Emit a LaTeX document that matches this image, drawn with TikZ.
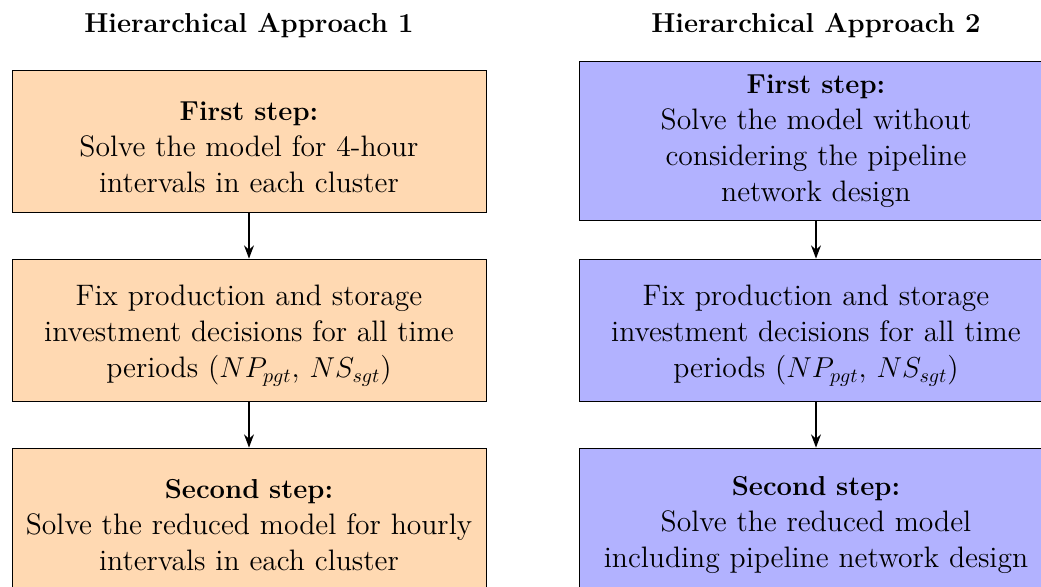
\documentclass[tikz,border=0pt]{standalone}
\usepackage{amsmath,amssymb}
\usepackage{xcolor}
\usepackage{tikz}
\usetikzlibrary{shapes,arrows,positioning,calc,arrows.meta}

\newcommand{\stephead}[1]{{\fontsize{13.7}{18}\selectfont\bfseries #1}}
\newcommand{\lowstrut}{\rule{0pt}{16pt}}

\begin{document}
\begin{tikzpicture}[
    stepbox/.style={draw, rectangle, text width=8cm, align=center, minimum height=71pt,
        inner xsep=4.7pt, inner ysep=6.5pt, font=\fontsize{14.8}{18}\selectfont},
    appone/.style={stepbox, fill=orange!30},
    apptwo/.style={stepbox, fill=blue!30},
    title/.style={font=\fontsize{13.7}{16}\selectfont\bfseries},
    flow/.style={-{Stealth}, thick}
]
    \useasboundingbox (0,0) rectangle (520.5pt,-293.5pt);
    % Approach 1
    \node[title] (t1) at (124.5pt,-13pt) {Hierarchical Approach 1};
    \node[appone] (a1) at (124.5pt,-70.5pt) {\lowstrut\stephead{First step:}\\ Solve the model for 4-hour\\ intervals in each cluster};
    \node[appone] (a2) at (124.5pt,-165pt) {\lowstrut Fix production and storage\\ investment decisions for all time\\ periods ($NP_{pgt}$, $NS_{sgt}$)};
    \node[appone] (a3) at (124.5pt,-259.5pt) {\lowstrut\stephead{Second step:}\\ Solve the reduced model for hourly\\ intervals in each cluster};
    % Approach 2
    \node[title] (t2) at (408pt,-13pt) {Hierarchical Approach 2};
    \node[apptwo] (b1) at (408pt,-70.5pt) {\stephead{First step:}\\ Solve the model without\\ considering the pipeline\\ network design};
    \node[apptwo] (b2) at (408pt,-165pt) {\lowstrut Fix production and storage\\ investment decisions for all time\\ periods ($NP_{pgt}$, $NS_{sgt}$)};
    \node[apptwo] (b3) at (408pt,-259.5pt) {\lowstrut\stephead{Second step:}\\ Solve the reduced model\\ including pipeline network design};
    \draw[flow] (a1) -- (a2);
    \draw[flow] (a2) -- (a3);
    \draw[flow] (b1) -- (b2);
    \draw[flow] (b2) -- (b3);
\end{tikzpicture}
\end{document}
